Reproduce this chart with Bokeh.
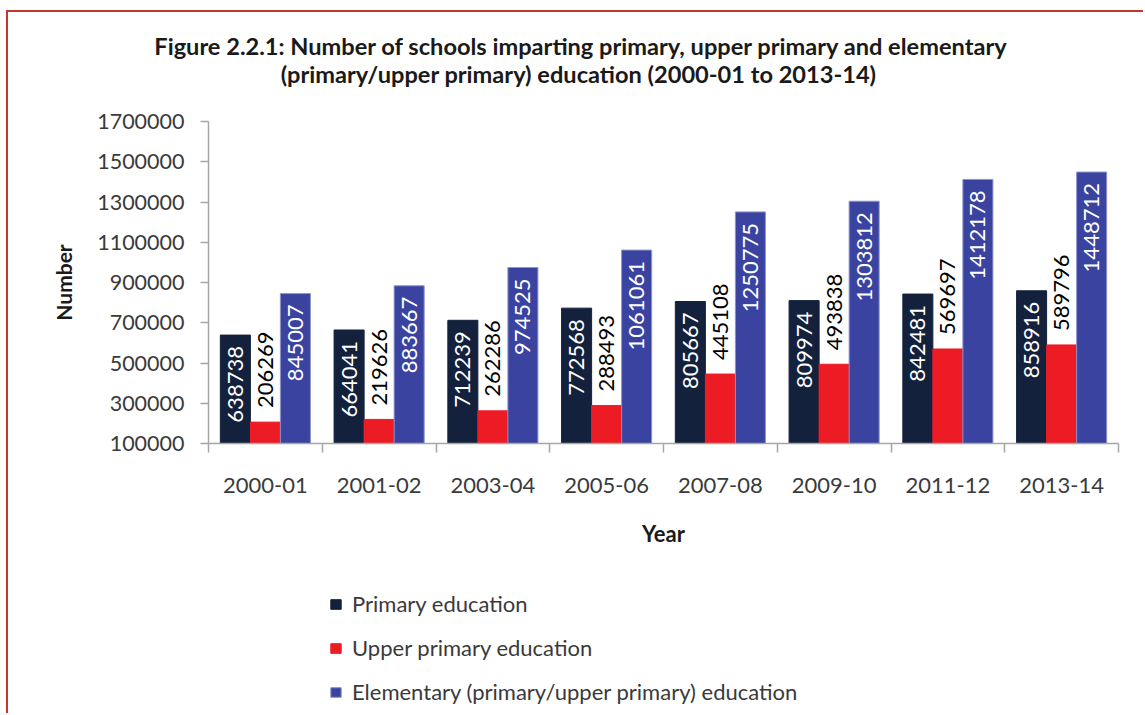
from math import pi
from bokeh.plotting import figure
from bokeh.models import (Range1d, FixedTicker, NumeralTickFormatter, Legend,
                          LegendItem, ColumnDataSource, Label, LinearAxis)
from bokeh.transform import dodge
from bokeh.core.properties import value
from bokeh.embed import file_html
from bokeh.resources import INLINE

# ---------------- data ----------------
years = ["2000-01", "2001-02", "2003-04", "2005-06", "2007-08", "2009-10", "2011-12", "2013-14"]
primary = [638738, 664041, 712239, 772568, 805667, 809974, 842481, 858916]
upper_primary = [206269, 219626, 262286, 288493, 445108, 493838, 569697, 589796]
elementary = [845007, 883667, 974525, 1061061, 1250775, 1303812, 1412178, 1448712]
series_names = ["Primary education", "Upper primary education",
                "Elementary (primary/upper primary) education"]
y_ticks = [100000, 300000, 500000, 700000, 900000, 1100000, 1300000, 1500000, 1700000]
title_lines = ["Figure 2.2.1: Number of schools imparting primary, upper primary and elementary",
               "(primary/upper primary) education  (2000-01 to 2013-14)"]

colors = ["#13213D", "#ED1C24", "#3A44A0"]
FONT = "Lato"

# ---------------- layout (pixels) ----------------
W, H = 1137, 703
FL, FR, FT, FB = 200, 1110, 109, 431          # plotting-area box inside the canvas
xs0, xs1 = -0.5, len(years) - 0.5
ys0, ys1 = y_ticks[0], y_ticks[-1]
xpp = (xs1 - xs0) / (FR - FL)
ypp = (ys1 - ys0) / (FB - FT)

src = ColumnDataSource(dict(
    x=list(range(len(years))),
    primary=primary, upper=upper_primary, elem=elementary,
    primary_lbl=[str(v) for v in primary],
    upper_lbl=[str(v) for v in upper_primary],
    elem_lbl=[str(v) for v in elementary],
))

p = figure(width=W, height=H, output_backend="svg", toolbar_location=None,
           x_range=Range1d(xs0 - FL * xpp, xs1 + (W - FR) * xpp),
           y_range=Range1d(ys0 - (H - FB) * ypp, ys1 + FT * ypp),
           x_axis_location=None, y_axis_location=None,
           min_border=0, min_border_left=0, min_border_right=0,
           min_border_top=0, min_border_bottom=0)
p.title = None
p.outline_line_color = None
p.xgrid.visible = False
p.ygrid.visible = False
p.margin = (12, 0, 0, 8)
p.styles = {"box-shadow": "-2px -2px 0 0 #C0392B"}

bw = 0.264
base = y_ticks[0]
r1 = p.vbar(x=dodge("x", -bw, range=p.x_range), top="primary", bottom=base, width=bw,
            source=src, fill_color=colors[0], line_color=colors[0])
r2 = p.vbar(x=dodge("x", 0, range=p.x_range), top="upper", bottom=base, width=bw,
            source=src, fill_color=colors[1], line_color=colors[1])
r3 = p.vbar(x=dodge("x", bw, range=p.x_range), top="elem", bottom=base, width=bw,
            source=src, fill_color=colors[2], line_color="#8C92CC", line_width=1)

lbl_kw = dict(angle=pi / 2, text_baseline="middle", text_font=value(FONT),
              text_font_size="22px", source=src)
p.text(x=dodge("x", -bw, range=p.x_range), y="primary", text="primary_lbl",
       text_align="right", y_offset=11, text_color="white", **lbl_kw)
p.text(x=dodge("x", 0, range=p.x_range), y="upper", text="upper_lbl",
       text_align="left", y_offset=-14, text_color="black", **lbl_kw)
p.text(x=dodge("x", bw, range=p.x_range), y="elem", text="elem_lbl",
       text_align="right", y_offset=11, text_color="white", **lbl_kw)

# y axis (fixed at the left edge of the plotting area)
ya = LinearAxis(fixed_location=xs0, bounds=(ys0, ys1))
ya.ticker = FixedTicker(ticks=y_ticks)
ya.formatter = NumeralTickFormatter(format="0")
ya.axis_line_color = "#A6A6A6"
ya.axis_line_width = 1.5
ya.major_tick_line_color = "#A6A6A6"
ya.major_tick_line_width = 1.5
ya.major_tick_out = 8
ya.major_tick_in = 0
ya.minor_tick_line_color = None
ya.major_label_standoff = 16
ya.major_label_text_font = FONT
ya.major_label_text_font_size = "21.5px"
ya.major_label_text_color = "#3A3A3A"
ya.axis_label = "Number"
ya.axis_label_text_font = FONT
ya.axis_label_text_font_style = "bold"
ya.axis_label_text_font_size = "21px"
ya.axis_label_text_color = "#1A1A1A"
ya.axis_label_standoff = 18
p.add_layout(ya, "left")

# x axis (fixed at the bottom of the plotting area)
xa = LinearAxis(fixed_location=ys0, bounds=(xs0, xs1))
xa.ticker = FixedTicker(ticks=list(range(len(years))),
                        minor_ticks=[i - 0.5 for i in range(len(years) + 1)])
xa.major_label_overrides = {i: y for i, y in enumerate(years)}
xa.axis_line_color = "#A6A6A6"
xa.axis_line_width = 1.5
xa.major_tick_line_color = None
xa.major_tick_out = 0
xa.major_tick_in = 0
xa.minor_tick_line_color = "#A6A6A6"
xa.minor_tick_line_width = 1.5
xa.minor_tick_out = 9
xa.minor_tick_in = 0
xa.major_label_standoff = 25
xa.major_label_text_font = FONT
xa.major_label_text_font_size = "22px"
xa.major_label_text_color = "#3A3A3A"
xa.axis_label = "Year"
xa.axis_label_text_font = FONT
xa.axis_label_text_font_style = "bold"
xa.axis_label_text_font_size = "22px"
xa.axis_label_text_color = "#1A1A1A"
xa.axis_label_standoff = 24
p.add_layout(xa, "below")

# title (two centred lines)
for i, t in enumerate(title_lines):
    p.add_layout(Label(x=573, y=H - 33 - 28 * i, x_units="screen", y_units="screen", text=t,
                       text_align="center", text_baseline="middle", text_font=FONT,
                       text_font_style="bold", text_font_size="23.6px", text_color="#1A1A1A"))

# legend
legend = Legend(items=[LegendItem(label=n, renderers=[r]) for n, r in zip(series_names, [r1, r2, r3])],
                location=(321, 10), orientation="vertical",
                glyph_width=13, glyph_height=12, label_standoff=10,
                label_height=22, spacing=17, padding=0, margin=0,
                label_text_font=FONT, label_text_font_size="22px", label_text_color="#3A3A3A",
                border_line_color=None, background_fill_alpha=0)
p.add_layout(legend, "center")

open("out.html", "w").write(file_html(p, INLINE))
